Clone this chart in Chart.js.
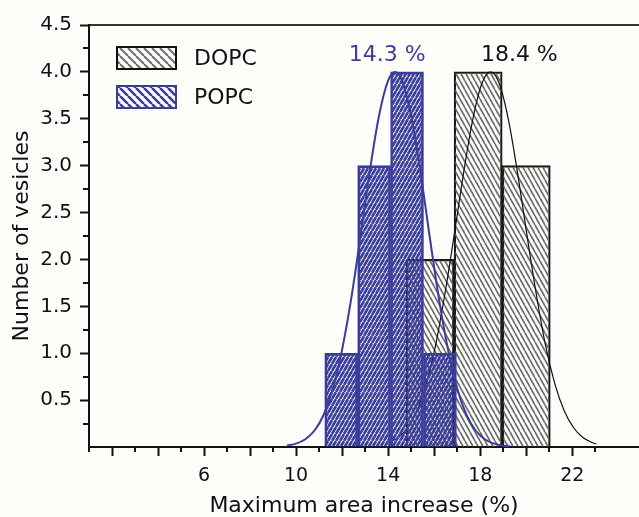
<!DOCTYPE html>
<html><head><meta charset="utf-8">
<script src="https://cdn.jsdelivr.net/npm/chart.js@4/dist/chart.umd.min.js"></script>
<style>html,body{margin:0;padding:0;background:#fdfdf9;overflow:hidden}
#wrap{width:639px;height:517px;position:relative}</style></head>
<body><div id="wrap"><canvas id="c" width="639" height="517"></canvas></div>
<script>
// ---- data ----
const seriesNames = ['DOPC', 'POPC'];
const dopcBinCenters = [15.82, 17.91, 20.00];
const dopcCounts = [2, 4, 3];
const popcBinCenters = [11.96, 13.39, 14.82, 16.25];
const popcCounts = [1, 3, 4, 1];
const popcFitX = [9.6, 10.0, 10.4, 10.8, 11.2, 11.6, 12.0, 12.4, 12.8, 13.2, 13.6, 14.0, 14.3, 14.6, 15.0, 15.4, 15.8, 16.2, 16.6, 17.0, 17.4, 17.8, 18.2, 18.6, 19.0, 19.3];
const popcFitY = [0.014, 0.036, 0.083, 0.176, 0.344, 0.623, 1.04, 1.59, 2.25, 2.94, 3.53, 3.91, 4.0, 3.91, 3.53, 2.94, 2.25, 1.59, 1.04, 0.623, 0.344, 0.176, 0.083, 0.036, 0.014, 0.007];
const dopcFitX = [14.05, 14.45, 14.85, 15.25, 15.65, 16.05, 16.45, 16.85, 17.25, 17.65, 18.05, 18.45, 18.85, 19.25, 19.65, 20.05, 20.45, 20.85, 21.25, 21.65, 22.05, 22.45, 22.85, 23.05];
const dopcFitY = [0.048, 0.104, 0.208, 0.386, 0.668, 1.07, 1.61, 2.23, 2.88, 3.46, 3.86, 4.0, 3.86, 3.46, 2.88, 2.23, 1.61, 1.07, 0.668, 0.386, 0.208, 0.104, 0.048, 0.032];
const peakLabels = ['14.3 %', '18.4 %'];
const peakLabelX = [13.96, 19.70];
const peakLabelY = [4.18, 4.18];
const xTickLabels = [6, 10, 14, 18, 22];
const yTickLabels = [0.5, 1.0, 1.5, 2.0, 2.5, 3.0, 3.5, 4.0, 4.5];
const xRange = [1, 24.9];
const yRange = [0, 4.5];

// ---- styling ----
const BLUE = '#3b3d9c';
const INK = '#111111';
const FONT = '"DejaVu Sans", sans-serif';

function hatch(color, period, height, lw, dir, bg) {
  const c = document.createElement('canvas');
  c.width = period; c.height = height;
  const g = c.getContext('2d');
  if (bg) { g.fillStyle = bg; g.fillRect(0, 0, period, height); }
  g.strokeStyle = color; g.lineWidth = lw;
  for (let k = -1; k <= 1; k++) {
    g.beginPath();
    if (dir === '\\') { g.moveTo(k * period, 0); g.lineTo(k * period + period, height); }
    else { g.moveTo(k * period, height); g.lineTo(k * period + period, 0); }
    g.stroke();
  }
  return g.createPattern(c, 'repeat');
}
const dopcPat = hatch('#6a6a6a', 5, 9, 1.6, '\\', null);
const popcPat = hatch(BLUE, 4, 7, 2.7, '/', null);
const dopcLegPat = hatch('#707070', 8, 8, 2, '\\', '#fdfdf9');
const popcLegPat = hatch(BLUE, 8, 8, 2.6, '\\', '#fdfdf9');

const isMajorX = v => Math.abs(v / 2 - Math.round(v / 2)) < 1e-6;
const isMajorY = v => Math.abs(v * 2 - Math.round(v * 2)) < 1e-6;

const extrasPlugin = {
  id: 'extras',
  afterDatasetsDraw(chart) {
    const { ctx, chartArea, scales } = chart;
    const xs = scales.x, ys = scales.y;
    ctx.save();
    // minor ticks
    ctx.strokeStyle = INK; ctx.lineWidth = 2;
    xs.ticks.forEach(t => {
      if (!isMajorX(t.value)) {
        const px = Math.round(xs.getPixelForValue(t.value));
        ctx.beginPath(); ctx.moveTo(px, chartArea.bottom); ctx.lineTo(px, chartArea.bottom + 5); ctx.stroke();
      }
    });
    ys.ticks.forEach(t => {
      if (!isMajorY(t.value)) {
        const py = Math.round(ys.getPixelForValue(t.value));
        ctx.beginPath(); ctx.moveTo(chartArea.left, py); ctx.lineTo(chartArea.left - 6, py); ctx.stroke();
      }
    });
    // peak annotations
    ctx.font = '22px ' + FONT;
    ctx.textAlign = 'center'; ctx.textBaseline = 'middle';
    const cols = [BLUE, INK];
    peakLabels.forEach((s, i) => {
      ctx.fillStyle = cols[i];
      ctx.fillText(s, xs.getPixelForValue(peakLabelX[i]), ys.getPixelForValue(peakLabelY[i]));
    });
    // legend inside plot
    const items = [
      { label: seriesNames[0], fill: dopcLegPat, stroke: INK },
      { label: seriesNames[1], fill: popcLegPat, stroke: BLUE }
    ];
    items.forEach((it, i) => {
      const x = chartArea.left + 28, y = chartArea.top + 22 + i * 39;
      ctx.fillStyle = it.fill; ctx.fillRect(x, y, 59, 22);
      ctx.lineWidth = 2; ctx.strokeStyle = it.stroke; ctx.strokeRect(x, y, 59, 22);
      ctx.fillStyle = INK; ctx.textAlign = 'left';
      ctx.fillText(it.label, x + 77, y + 12);
    });
    ctx.restore();
  }
};

const hiddenTicks = s => { s.ticks = [{ value: xRange[0] }, { value: xRange[1] }]; };

new Chart(document.getElementById('c'), {
  type: 'bar',
  data: {
    datasets: [
      {
        type: 'line', label: seriesNames[1] + ' fit', xAxisID: 'x', yAxisID: 'y', order: 1,
        data: popcFitX.map((x, i) => ({ x, y: popcFitY[i] })),
        borderColor: BLUE, borderWidth: 2, pointRadius: 0, fill: false,
        cubicInterpolationMode: 'monotone'
      },
      {
        type: 'bar', label: seriesNames[1], xAxisID: 'xp', yAxisID: 'y', order: 2,
        data: popcBinCenters.map((x, i) => ({ x, y: popcCounts[i] })),
        backgroundColor: popcPat, borderColor: BLUE, borderWidth: 2,
        barPercentage: 1, categoryPercentage: 1, grouped: false
      },
      {
        type: 'line', label: seriesNames[0] + ' fit', xAxisID: 'x', yAxisID: 'y', order: 3,
        data: dopcFitX.map((x, i) => ({ x, y: dopcFitY[i] })),
        borderColor: INK, borderWidth: 1.2, pointRadius: 0, fill: false,
        cubicInterpolationMode: 'monotone'
      },
      {
        type: 'bar', label: seriesNames[0], xAxisID: 'xd', yAxisID: 'y', order: 4,
        data: dopcBinCenters.map((x, i) => ({ x, y: dopcCounts[i] })),
        backgroundColor: dopcPat, borderColor: '#1a1a1a', borderWidth: 1.6,
        barPercentage: 1, categoryPercentage: 1, grouped: false
      }
    ]
  },
  options: {
    responsive: false, animation: false,
    layout: { padding: { top: 25, left: 0, right: 0, bottom: 0 } },
    plugins: { legend: { display: false }, tooltip: { enabled: false } },
    scales: {
      x: {
        type: 'linear', position: 'bottom', min: xRange[0], max: xRange[1], offset: false,
        afterBuildTicks: s => { s.ticks = s.ticks.filter(t => Math.abs(t.value - Math.round(t.value)) < 1e-6); },
        afterFit: s => { s.height = 70; },
        border: { display: true, color: INK, width: 2 },
        grid: {
          offset: false, drawOnChartArea: false, drawTicks: true, tickLength: 9, tickWidth: 2,
          tickColor: c => (c.tick && isMajorX(c.tick.value)) ? INK : 'rgba(0,0,0,0)'
        },
        ticks: {
          stepSize: 1, autoSkip: false, maxRotation: 0, padding: 9, color: INK,
          font: { family: FONT, size: 19 },
          callback: v => xTickLabels.includes(v) ? String(v) : ''
        },
        title: {
          display: true, text: 'Maximum area increase (%)', color: INK,
          font: { family: FONT, size: 22, lineHeight: 1 }, padding: { top: 0, bottom: 0 }
        }
      },
      xp: {
        type: 'linear', position: 'top', min: xRange[0], max: xRange[1], offset: false,
        afterBuildTicks: hiddenTicks,
        afterFit: s => { s.height = 0; },
        border: { display: true, color: '#333', width: 2 },
        grid: { display: false, drawTicks: false, offset: false },
        ticks: { display: false }
      },
      xd: {
        type: 'linear', display: false, min: xRange[0], max: xRange[1], offset: false,
        grid: { offset: false },
        afterBuildTicks: hiddenTicks
      },
      y: {
        type: 'linear', min: yRange[0], max: yRange[1],
        afterFit: s => { s.width = 89; },
        border: { display: true, color: INK, width: 2 },
        grid: {
          drawOnChartArea: false, drawTicks: true, tickLength: 9, tickWidth: 2,
          tickColor: c => (c.tick && isMajorY(c.tick.value) && c.tick.value > 0) ? INK : 'rgba(0,0,0,0)'
        },
        ticks: {
          stepSize: 0.25, autoSkip: false, padding: 8, color: INK,
          font: { family: FONT, size: 20 },
          callback: v => yTickLabels.includes(v) ? v.toFixed(1) : ''
        },
        title: {
          display: true, text: 'Number of vesicles', color: INK,
          font: { family: FONT, size: 22, lineHeight: 1.2 }, padding: { top: 9, bottom: 0 }
        }
      }
    }
  },
  plugins: [extrasPlugin]
});
</script>
</body></html>
